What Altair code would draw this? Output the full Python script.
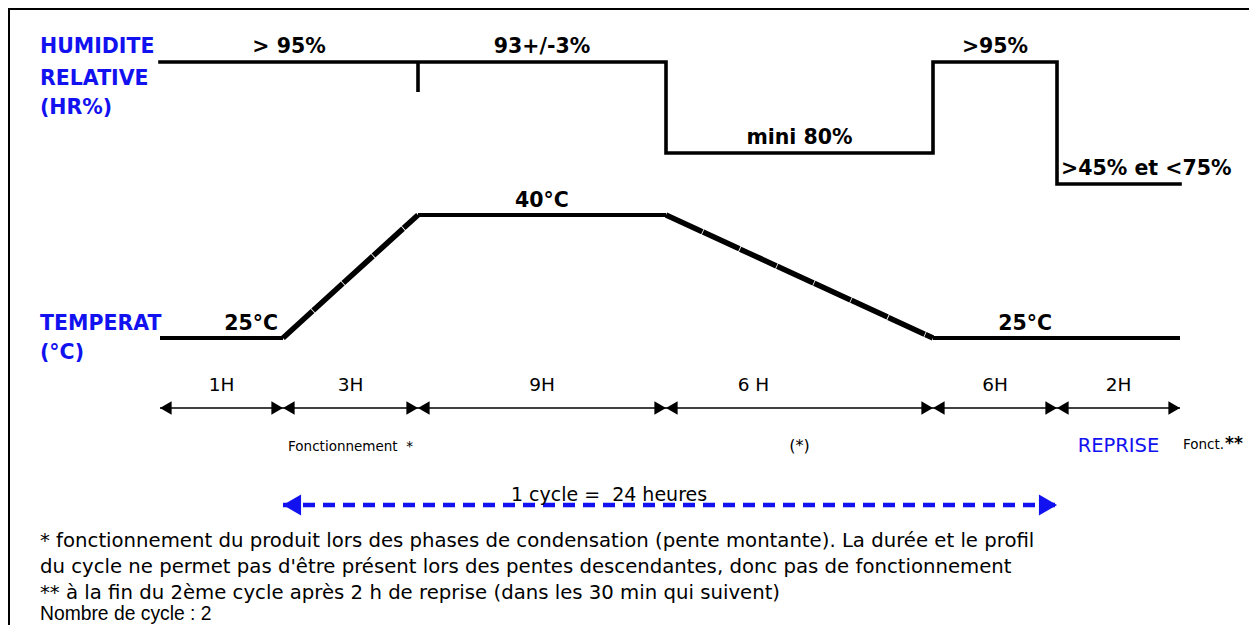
import altair as alt
import numpy as np
import pandas as pd

# ---------------- data ----------------
phase_start_h = [0, 1, 4, 13, 19, 25]
phase_end_h = [1, 4, 13, 19, 25, 27]
phase_duration = ["1H", "3H", "9H", "6 H", "6H", "2H"]

hr_time_h = [0, 4, 13, 19, 25, 27]
hr_value = [95, 93, 80, 95, 60, 60]
hr_phase_label = ["> 95%", "93+/-3%", "mini 80%", ">95%", ">45% et <75%"]

temp_seg_start_h = [0, 1, 4, 13, 19]
temp_seg_end_h = [1, 4, 13, 19, 27]
temp_seg_start_c = [25, 25, 40, 40, 25]
temp_seg_end_c = [25, 40, 40, 25, 25]
temp_seg_kind = ["palier", "rampe", "palier", "rampe", "palier"]

cycle_start_h = 1
cycle_end_h = 25
cycle_label = "1 cycle =\u00a0 24 heures"

footnotes = [
    "* fonctionnement du produit lors des phases de condensation (pente montante). La durée et le profil",
    "du cycle ne permet pas d'être présent lors des pentes descendantes, donc pas de fonctionnement",
    "** à la fin du 2ème cycle après 2 h de reprise (dans les 30 min qui suivent)",
    "Nombre de cycle : 2",
]

# ---------------- layout ----------------
W, H = 1241, 617
BLUE = "#1212f0"
FONT = "DejaVu Sans"
BOLD_SIZE = 20.5
hours_breaks = [0, 1, 4, 13, 19, 25, 27]
px_breaks = [152, 275, 410, 658, 925, 1049, 1172]  # schematic (non-proportional) time axis


def px_mid_hour(a, b):
    """hour whose pixel position is the pixel midpoint of [a, b]"""
    m = (np.interp(a, hours_breaks, px_breaks) + np.interp(b, hours_breaks, px_breaks)) / 2
    return float(np.interp(m, px_breaks, hours_breaks))


X = alt.Scale(domain=hours_breaks, range=px_breaks, zero=False, nice=False)
Y_HR = alt.Scale(domain=[60, 80, 93, 95], range=[176, 145, 54, 54], zero=False, nice=False)
Y_T = alt.Scale(domain=[25, 40], range=[330, 207], zero=False, nice=False)

one = pd.DataFrame({"k": [0]})

# ---------- humidity ----------
hr_df = pd.DataFrame({"h": hr_time_h, "hr": hr_value})
hr_line = alt.Chart(hr_df).mark_line(
    interpolate="step-after", color="black", strokeWidth=3.6, strokeCap="square", strokeJoin="miter"
).encode(x=alt.X("h:Q", scale=X, axis=None), y=alt.Y("hr:Q", scale=Y_HR, axis=None))

hr_tick = alt.Chart(pd.DataFrame({"h": [hr_time_h[1]], "hr": [hr_value[1]]})).mark_rule(
    color="black", strokeWidth=3.6
).encode(x=alt.X("h:Q", scale=X, axis=None), y=alt.Y("hr:Q", scale=Y_HR, axis=None), y2=alt.value(84))

hr_lab_c = pd.DataFrame({
    "h": [px_mid_hour(hr_time_h[i], hr_time_h[i + 1]) for i in range(4)],
    "hr": hr_value[:4],
    "t": hr_phase_label[:4],
})
hr_text = alt.Chart(hr_lab_c).mark_text(
    font=FONT, fontWeight="bold", fontSize=BOLD_SIZE, dy=-9, baseline="alphabetic", align="center", color="black"
).encode(x=alt.X("h:Q", scale=X, axis=None), y=alt.Y("hr:Q", scale=Y_HR, axis=None), text="t:N")

hr_text_last = alt.Chart(pd.DataFrame({"h": [hr_time_h[4]], "hr": [hr_value[4]], "t": [hr_phase_label[4]]})).mark_text(
    font=FONT, fontWeight="bold", fontSize=BOLD_SIZE, dy=-9, dx=4, baseline="alphabetic", align="left", color="black"
).encode(x=alt.X("h:Q", scale=X, axis=None), y=alt.Y("hr:Q", scale=Y_HR, axis=None), text="t:N")

# ---------- temperature ----------
t_df = pd.DataFrame({
    "h0": temp_seg_start_h, "h1": temp_seg_end_h,
    "c0": temp_seg_start_c, "c1": temp_seg_end_c, "kind": temp_seg_kind,
})
t_line = alt.Chart(t_df).mark_rule(color="black", strokeCap="butt").encode(
    x=alt.X("h0:Q", scale=X, axis=None), x2="h1:Q",
    y=alt.Y("c0:Q", scale=Y_T, axis=None), y2="c1:Q",
    strokeWidth=alt.StrokeWidth("kind:N", scale=alt.Scale(domain=["palier", "rampe"], range=[4, 5.5]), legend=None),
    strokeDash=alt.StrokeDash("kind:N", scale=alt.Scale(domain=["palier", "rampe"], range=[[1, 0], [40, 0.8]]), legend=None),
)

t_lab_right = pd.DataFrame({"h": [temp_seg_end_h[0], 25], "c": [25, 25], "t": ["25°C", "25°C"]})
t_text_r = alt.Chart(t_lab_right).mark_text(
    font=FONT, fontWeight="bold", fontSize=BOLD_SIZE, dy=-8, dx=-5, baseline="alphabetic", align="right", color="black"
).encode(x=alt.X("h:Q", scale=X, axis=None), y=alt.Y("c:Q", scale=Y_T, axis=None), text="t:N")
t_text_c = alt.Chart(pd.DataFrame({"h": [px_mid_hour(4, 13)], "c": [40], "t": ["40°C"]})).mark_text(
    font=FONT, fontWeight="bold", fontSize=BOLD_SIZE, dy=-8, baseline="alphabetic", align="center", color="black"
).encode(x=alt.X("h:Q", scale=X, axis=None), y=alt.Y("c:Q", scale=Y_T, axis=None), text="t:N")

# ---------- time line ----------
ph = pd.DataFrame({
    "h0": phase_start_h, "h1": phase_end_h, "d": phase_duration,
    "hm": [px_mid_hour(a, b) for a, b in zip(phase_start_h, phase_end_h)],
})
tl_rule = alt.Chart(ph).mark_rule(color="black", strokeWidth=1.3).encode(
    x=alt.X("h0:Q", scale=X, axis=None), x2="h1:Q", y=alt.value(400))
tl_left = alt.Chart(ph).mark_point(shape="triangle-left", filled=True, size=180, color="black", opacity=1, xOffset=5.8).encode(
    x=alt.X("h0:Q", scale=X, axis=None), y=alt.value(400))
tl_right = alt.Chart(ph).mark_point(shape="triangle-right", filled=True, size=180, color="black", opacity=1, xOffset=-5.8).encode(
    x=alt.X("h1:Q", scale=X, axis=None), y=alt.value(400))
tl_text = alt.Chart(ph[ph["d"] != "6 H"]).mark_text(font=FONT, fontSize=18.5, align="center", baseline="alphabetic", color="black").encode(
    x=alt.X("hm:Q", scale=X, axis=None), y=alt.value(383), text="d:N")
tl_text_b = alt.Chart(ph[ph["d"] == "6 H"]).mark_text(font=FONT, fontSize=18.5, align="center", baseline="alphabetic", color="black", dx=-46).encode(
    x=alt.X("hm:Q", scale=X, axis=None), y=alt.value(383), text="d:N")

note1 = alt.Chart(pd.DataFrame({"h": [px_mid_hour(1, 4)], "t": ["Fonctionnement \u00a0*"]})).mark_text(
    font=FONT, fontSize=13.5, align="center", baseline="alphabetic", color="black").encode(
    x=alt.X("h:Q", scale=X, axis=None), y=alt.value(443), text="t:N")
note2 = alt.Chart(pd.DataFrame({"h": [px_mid_hour(13, 19)], "t": ["(*)"]})).mark_text(
    font=FONT, fontSize=16, align="center", baseline="alphabetic", color="black").encode(
    x=alt.X("h:Q", scale=X, axis=None), y=alt.value(443), text="t:N")
note3 = alt.Chart(pd.DataFrame({"h": [px_mid_hour(25, 27)], "t": ["REPRISE"]})).mark_text(
    font=FONT, fontSize=19.5, align="center", baseline="alphabetic", color=BLUE).encode(
    x=alt.X("h:Q", scale=X, axis=None), y=alt.value(444), text="t:N")
note4 = alt.Chart(pd.DataFrame({"h": [27], "t": ["Fonct."]})).mark_text(
    font=FONT, fontSize=13.5, align="left", baseline="alphabetic", color="black", dx=3).encode(
    x=alt.X("h:Q", scale=X, axis=None), y=alt.value(441), text="t:N")
note5 = alt.Chart(pd.DataFrame({"h": [27], "t": ["**"]})).mark_text(
    font=FONT, fontSize=17, fontWeight="bold", align="left", baseline="alphabetic", color="black", dx=45).encode(
    x=alt.X("h:Q", scale=X, axis=None), y=alt.value(441), text="t:N")

# ---------- cycle arrow ----------
cy = pd.DataFrame({"h0": [cycle_start_h], "h1": [cycle_end_h]})
cy_rule = alt.Chart(cy).mark_rule(color=BLUE, strokeWidth=4.5, strokeDash=[12, 8]).encode(
    x=alt.X("h0:Q", scale=X, axis=None), x2="h1:Q", y=alt.value(497))
cy_left = alt.Chart(cy).mark_point(shape="triangle-left", filled=True, size=440, color=BLUE, opacity=1, xOffset=9).encode(
    x=alt.X("h0:Q", scale=X, axis=None), y=alt.value(497))
cy_right = alt.Chart(cy).mark_point(shape="triangle-right", filled=True, size=440, color=BLUE, opacity=1, xOffset=-9).encode(
    x=alt.X("h1:Q", scale=X, axis=None), y=alt.value(497))
cy_text = alt.Chart(pd.DataFrame({"t": [cycle_label]})).mark_text(
    font=FONT, fontSize=19, align="center", baseline="alphabetic", color="black").encode(
    x=alt.value(601), y=alt.value(493), text="t:N")

# ---------- side labels ----------
def side(text, y):
    return alt.Chart(pd.DataFrame({"t": [text]})).mark_text(
        font=FONT, fontWeight="bold", fontSize=BOLD_SIZE, align="left", baseline="alphabetic", color=BLUE
    ).encode(x=alt.value(32), y=alt.value(y), text="t:N")

side_layers = [side("HUMIDITE", 45), side("RELATIVE", 77), side("(HR%)", 106),
               side("TEMPERAT", 322), side("(°C)", 351)]

# ---------- footnotes ----------
def foot(text, y, size, font=FONT):
    return alt.Chart(pd.DataFrame({"t": [text]})).mark_text(
        font=font, fontSize=size, align="left", baseline="alphabetic", color="black"
    ).encode(x=alt.value(32), y=alt.value(y), text="t:N")

foot_layers = [foot(footnotes[0], 539, 19.7), foot(footnotes[1], 565, 19.7),
               foot(footnotes[2], 591, 19.7), foot(footnotes[3], 612, 19.3, "Liberation Sans")]

# ---------- frame ----------
frame_top = alt.Chart(one).mark_rule(color="black", strokeWidth=4).encode(
    x=alt.value(0), x2=alt.value(W), y=alt.value(0))
frame_left = alt.Chart(one).mark_rule(color="black", strokeWidth=4).encode(
    x=alt.value(0), y=alt.value(0), y2=alt.value(H))

chart = alt.layer(
    frame_top, frame_left,
    hr_line, hr_tick, hr_text, hr_text_last,
    t_line, t_text_r, t_text_c,
    tl_rule, tl_left, tl_right, tl_text, tl_text_b,
    note1, note2, note3, note4, note5,
    cy_rule, cy_left, cy_right, cy_text,
    *side_layers, *foot_layers,
).resolve_scale(y="independent").properties(
    width=W, height=H, padding=0, autosize=alt.AutoSizeParams(type="none"), background="white"
).configure_view(stroke=None)

chart.save("out.html", embed_options={"renderer": "svg", "actions": False})
